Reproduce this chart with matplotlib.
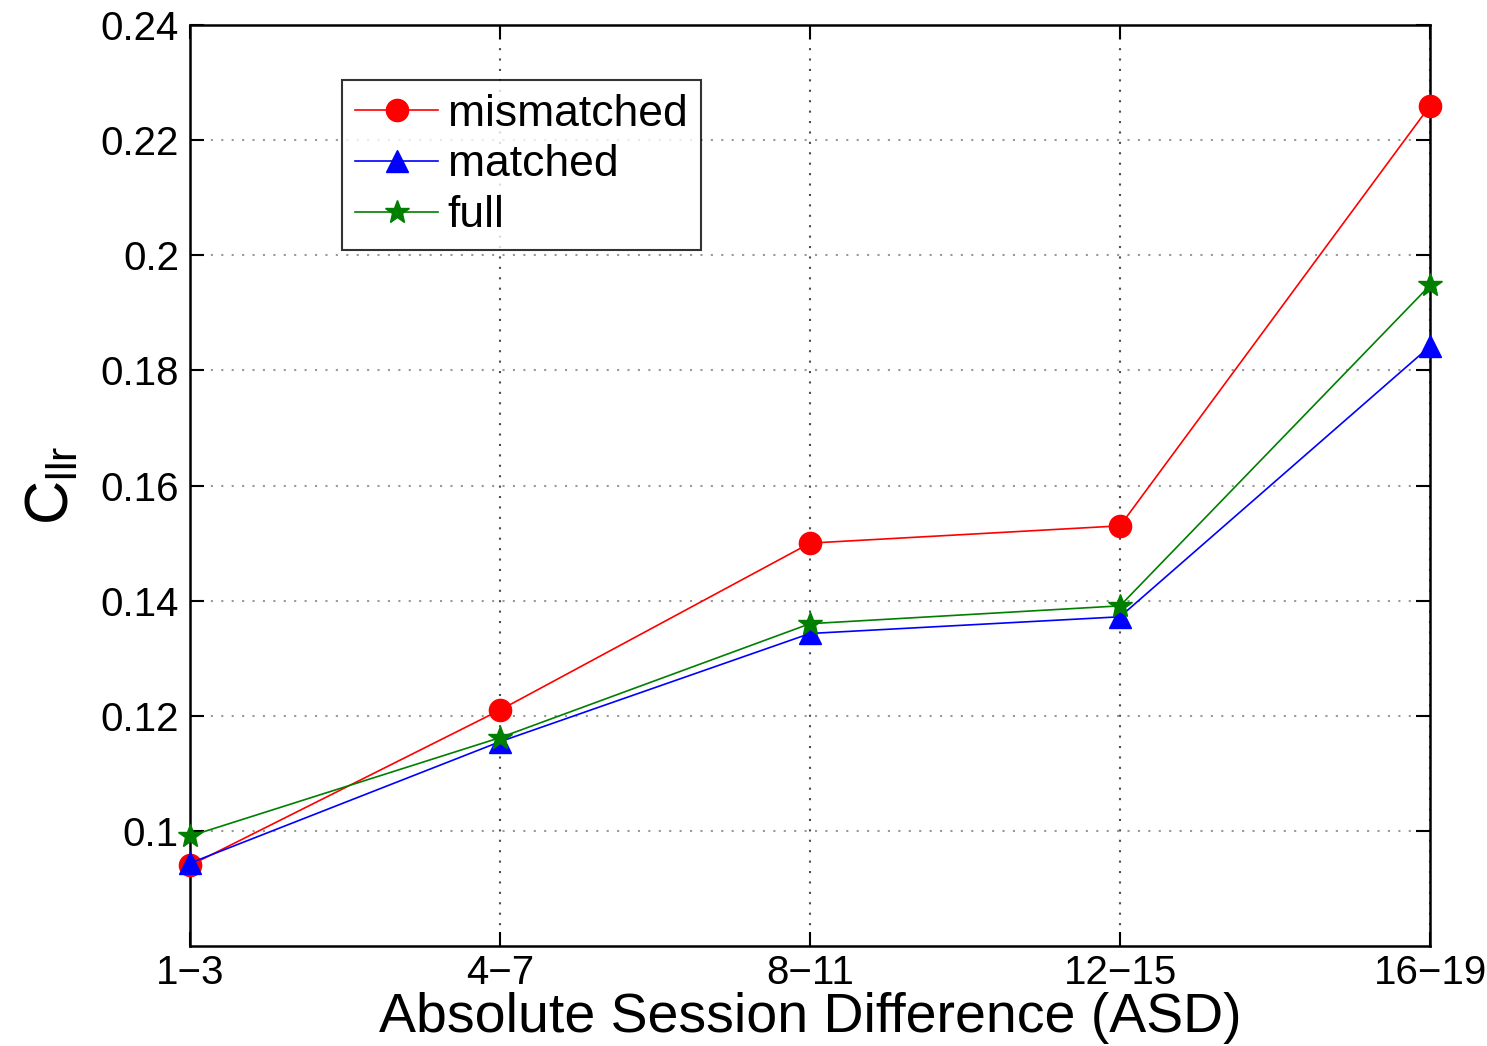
import matplotlib
matplotlib.use("Agg")
import matplotlib.pyplot as plt
import numpy as np

plt.rcParams['font.family'] = ['Liberation Sans', 'DejaVu Sans']
plt.rcParams['mathtext.fontset'] = 'custom'
plt.rcParams['mathtext.rm'] = 'Liberation Sans'
plt.rcParams['mathtext.it'] = 'Liberation Sans'

asd_labels = ["1\u22123", "4\u22127", "8\u221211", "12\u221215", "16\u221219"]
mismatched = [0.094, 0.121, 0.150, 0.153, 0.226]
matched = [0.0944, 0.1155, 0.1343, 0.1372, 0.1842]
full = [0.0991, 0.1162, 0.1360, 0.1391, 0.1948]

x = np.arange(len(asd_labels))

fig = plt.figure(figsize=(14.87, 10.46), dpi=100)
ax = fig.add_axes([0.1278, 0.0956, 0.9617 - 0.1278, 0.976 - 0.0956])

ax.plot(x, mismatched, color="#ff0000", lw=1.2, marker="o", ms=16, label="mismatched", clip_on=False, zorder=3)
ax.plot(x, matched, color="#0000ff", lw=1.2, marker="^", ms=16, label="matched", clip_on=False, zorder=3)
ax.plot(x, full, color="#007f00", lw=1.2, marker="*", ms=18, label="full", clip_on=False, zorder=3)

ax.set_xlim(0, 4)
ax.set_ylim(0.08, 0.24)
ax.set_xticks(x, asd_labels)
ax.set_yticks(np.arange(0.10, 0.2401, 0.02), ["0.1", "0.12", "0.14", "0.16", "0.18", "0.2", "0.22", "0.24"])

ax.yaxis.grid(True, linestyle=(0, (1, 4)), color="0.6", lw=1.5)
ax.xaxis.grid(True, linestyle=(0, (1, 4)), color="0.3", lw=1.5)

ax.tick_params(direction="in", length=10, width=1.5, labelsize=29, top=True, right=True)
ax.tick_params(axis="x", pad=6)
ax.tick_params(axis="y", pad=8)
for s in ax.spines.values():
    s.set_linewidth(1.8)

ax.set_xlabel("Absolute Session Difference (ASD)", fontsize=40, labelpad=0)
ax.set_ylabel("$\\mathrm{C_{llr}}$", fontsize=44, labelpad=14)

leg = ax.legend(loc="upper left", bbox_to_anchor=(0.1226, 0.940), fontsize=32,
                frameon=True, fancybox=False, edgecolor="black", handlelength=1.86,
                handletextpad=0.22, labelspacing=0.22, borderpad=0.3, borderaxespad=0)
leg.get_frame().set_linewidth(1.5)

fig.savefig("out.png", dpi=100)
